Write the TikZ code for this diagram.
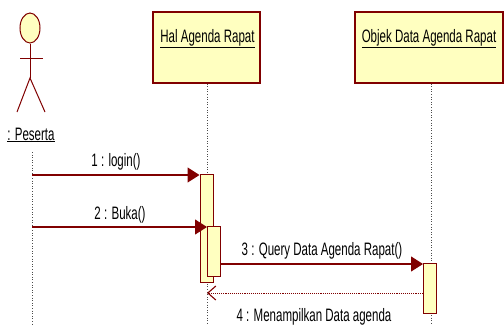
\documentclass[tikz,border=0pt]{standalone}
\usepackage{fontspec}
\setmainfont[FakeStretch=0.64]{Liberation Sans}
\usetikzlibrary{arrows.meta,shapes.geometric}
\definecolor{umlred}{RGB}{128,0,0}
\definecolor{umlfill}{RGB}{255,255,192}
\begin{document}
\begin{tikzpicture}[x=1pt,y=-1pt,
  objbox/.style={draw=umlred,line width=1.2pt,fill=umlfill,minimum width=#1,minimum height=71pt,inner sep=0pt},
  objlabel/.style={font=\fontsize{18}{20}\selectfont,inner sep=0pt,anchor=base},
  lifeline/.style={dotted,line width=0.6pt,black!70},
  act/.style={draw=umlred,line width=1pt,fill=umlfill,minimum width=13pt,inner sep=0pt},
  msg/.style={umlred,line width=1.2pt,-{Triangle[length=12pt,width=15pt]}},
  ret/.style={umlred,densely dotted,line width=0.9pt,-{Straight Barb[length=8pt,width=14pt,line width=1.1pt]}},
  mlabel/.style={font=\fontsize{18}{20}\selectfont,inner sep=0pt,anchor=base},
  actorline/.style={umlred,line width=1pt}]
\useasboundingbox (0,0) rectangle (504,325);
% actor
\node[draw=umlred,line width=1pt,fill=umlfill,ellipse,minimum width=20pt,minimum height=30pt,inner sep=0pt] (head) at (30,28) {};
\coordinate (hip) at (30,78);
\coordinate (larm) at (20,58);
\coordinate (rarm) at (43,58);
\coordinate (lleg) at (17,112);
\coordinate (rleg) at (45,112);
\draw[actorline] (head.south) -- (hip);
\draw[actorline] (larm) -- (rarm);
\draw[actorline] (lleg) -- (hip) -- (rleg);
\node[objlabel] (actlabel) at (31,140) {\underline{: Peserta}};
\coordinate (actbot) at (32,325);
\draw[lifeline] (32,152) coordinate (acttop) -- (actbot);
% objects
\node[objbox=107pt] (hal) at (206.5,47.5) {};
\node[objlabel] (hallabel) at (207.5,42) {\underline{Hal Agenda Rapat}};
\node[objbox=148pt] (obj) at (429,47.5) {};
\node[objlabel] (objlabel) at (429,42) {\underline{Objek Data Agenda Rapat}};
\coordinate (halbot) at (207,325);
\coordinate (objbot) at (431,325);
\draw[lifeline] (hal.south -| halbot) -- (halbot);
\draw[lifeline] (obj.south -| objbot) -- (objbot);
% activations
\node[act,minimum height=108pt] (a1) at (206.5,228) {};
\node[act,minimum height=50pt] (a2) at (214,251) {};
\node[act,minimum height=50pt] (a3) at (430,288) {};
% messages
\coordinate (m1s) at (32,175);
\coordinate (m2s) at (32,227);
\draw[msg] (m1s) -- (m1s -| a1.west);
\node[mlabel] (l1) at (116,166) {1 : login()};
\draw[msg] (m2s) -- (m2s -| a2.west);
\node[mlabel] (l2) at (120,219.5) {2 : Buka()};
\coordinate (m3s) at (a2.east |- 0,264);
\draw[msg] (m3s) -- (m3s -| a3.west);
\node[mlabel] (l3) at (322,255) {3 : Query Data Agenda Rapat()};
\coordinate (m4s) at (a3.west |- 0,293);
\draw[ret] (m4s) -- (m4s -| halbot);
\node[mlabel] (l4) at (314,321) {4 : Menampilkan Data agenda};
\end{tikzpicture}
\end{document}
